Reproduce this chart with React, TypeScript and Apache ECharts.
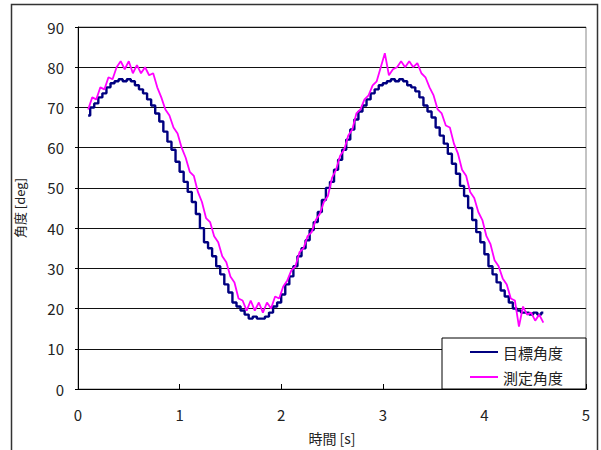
import React, { useEffect, useRef } from "react";
import * as echarts from "echarts";

const times = [
  0.10, 0.14, 0.18, 0.22, 0.26, 0.30, 0.34, 0.38, 0.42, 0.46, 0.50, 0.54, 0.58, 0.62, 0.66, 0.70,
  0.74, 0.78, 0.82, 0.86, 0.90, 0.94, 0.98, 1.02, 1.06, 1.10, 1.14, 1.18, 1.22, 1.26, 1.30, 1.34,
  1.38, 1.42, 1.46, 1.50, 1.54, 1.58, 1.62, 1.66, 1.70, 1.74, 1.78, 1.82, 1.86, 1.90, 1.94, 1.98,
  2.02, 2.06, 2.10, 2.14, 2.18, 2.22, 2.26, 2.30, 2.34, 2.38, 2.42, 2.46, 2.50, 2.54, 2.58, 2.62,
  2.66, 2.70, 2.74, 2.78, 2.82, 2.86, 2.90, 2.94, 2.98, 3.02, 3.06, 3.10, 3.14, 3.18, 3.22, 3.26,
  3.30, 3.34, 3.38, 3.42, 3.46, 3.50, 3.54, 3.58, 3.62, 3.66, 3.70, 3.74, 3.78, 3.82, 3.86, 3.90,
  3.94, 3.98, 4.02, 4.06, 4.10, 4.14, 4.18, 4.22, 4.26, 4.30, 4.34, 4.38, 4.42, 4.46, 4.50, 4.54,
  4.58,
];

const target = [
  68, 70, 71, 72.5, 73.5, 75, 76, 76.5, 77, 76.5, 77, 76.5, 75.5, 74.5, 73.5, 72,
  70.5, 68.5, 66.5, 64, 61.5, 59.5, 56.5, 54, 51.5, 49, 46.5, 43.5, 40, 36.5, 35, 33,
  30.5, 28.5, 26, 24, 21.5, 20.5, 19.5, 18.5, 17.5, 18, 17.5, 17.5, 18, 19, 20.5, 21.5,
  23.5, 26, 28, 30.5, 33, 35, 37, 39.5, 41.5, 44, 47, 50, 51.5, 54.5, 57, 59.5,
  62, 64.5, 67, 69, 70.5, 72, 73.5, 74.5, 75.5, 76, 76.5, 77, 76.5, 77, 76.5, 75.5,
  75, 74, 72.5, 70.5, 69, 67.5, 65, 63, 61, 58.5, 56, 53.5, 50.5, 48, 45, 42,
  39, 36.5, 33.5, 30.5, 28.5, 26.5, 24.5, 23, 21.5, 20, 19.5, 19, 19, 18.5, 19, 18.5,
  19,
];

const measured = [
  69.5, 72.5, 72, 75, 74.5, 77.5, 77, 80, 81.5, 79.5, 81.5, 78.5, 80.5, 78.5, 80, 78,
  78.5, 75, 72.5, 69.5, 68, 65, 63.5, 60, 57.5, 54, 53, 49, 46.5, 42.5, 41.5, 38,
  36.5, 33, 31.5, 28, 26.5, 22.5, 22, 19.5, 22, 19.5, 21.5, 19, 21.5, 20, 23, 22.5,
  25.5, 27, 29.5, 30.5, 34, 35, 38, 39, 42, 43.5, 46.5, 48, 52.5, 54.5, 58, 59.5,
  63, 64.5, 68.5, 69.5, 72, 73, 75.5, 76.5, 80, 83.5, 78, 79.5, 80, 81.5, 80, 81.5,
  80, 81, 78.5, 77.5, 75, 73, 69.5, 68.5, 65.5, 65, 61, 58.5, 54.5, 53, 49, 47.5,
  44, 42, 38, 36, 32, 30.5, 27.5, 26, 22.5, 22, 15.5, 20.5, 18.5, 19, 17, 18.5,
  16.5,
];

const seriesNames = ["目標角度", "測定角度"];
const xAxisName = "時間 [s]";
const yAxisName = "角度 [deg]";

const FONT = "'Noto Sans CJK JP', 'Noto Sans', sans-serif";

export default function App() {
  const ref = useRef<HTMLDivElement>(null);
  useEffect(() => {
    const chart = echarts.init(ref.current!, null, { renderer: "svg" });
    chart.setOption({
      animation: false,
      backgroundColor: "#fff",
      textStyle: { fontFamily: FONT },
      grid: {
        left: 78,
        right: 15,
        top: 27,
        bottom: 58,
        show: true,
        borderColor: "#888",
        borderWidth: 1,
        backgroundColor: "transparent",
      },
      graphic: [
        {
          type: "rect",
          shape: { x: 11.5, y: 4.5, width: 586, height: 470 },
          style: { fill: "none", stroke: "#333", lineWidth: 1.5 },
          silent: true,
        },
      ],
      legend: {
        orient: "vertical",
        left: 442,
        top: 338,
        data: seriesNames,
        icon: "rect",
        itemWidth: 28,
        itemHeight: 2,
        itemGap: 7,
        padding: [5, 23, 3, 28],
        backgroundColor: "#fff",
        borderColor: "#000",
        borderWidth: 1,
        textStyle: { fontSize: 15, color: "#222", fontFamily: FONT, lineHeight: 18 },
      },
      xAxis: {
        type: "value",
        min: 0,
        max: 5,
        interval: 1,
        name: xAxisName,
        nameLocation: "middle",
        nameGap: 42,
        nameTextStyle: { fontSize: 14, color: "#222", fontFamily: FONT },
        axisLine: { show: true, onZero: false, lineStyle: { color: "#000", width: 1 } },
        axisTick: { show: true, inside: true, length: 5, lineStyle: { color: "#000" } },
        axisLabel: { fontSize: 15, color: "#222", margin: 18, fontFamily: FONT },
        splitLine: { show: false },
      },
      yAxis: {
        type: "value",
        min: 0,
        max: 90,
        interval: 10,
        name: yAxisName,
        nameLocation: "middle",
        nameGap: 52,
        nameRotate: 90,
        nameTextStyle: { fontSize: 13, color: "#222", fontFamily: FONT },
        axisLine: { show: true, lineStyle: { color: "#000", width: 1 } },
        axisTick: { show: true, inside: false, length: 3, lineStyle: { color: "#000" } },
        axisLabel: { fontSize: 15, color: "#222", margin: 14, fontFamily: FONT },
        splitLine: { show: true, lineStyle: { color: "#111", width: 1 } },
      },
      series: [
        {
          name: seriesNames[0],
          type: "line",
          data: times.map((t, i) => [t, target[i]]),
          symbol: "none",
          step: "middle",
          lineStyle: { color: "#000080", width: 2.4 },
          itemStyle: { color: "#000080" },
          z: 2,
        },
        {
          name: seriesNames[1],
          type: "line",
          data: times.map((t, i) => [t, measured[i]]),
          symbol: "none",
          lineStyle: { color: "#FF00FF", width: 1.8 },
          itemStyle: { color: "#FF00FF" },
          z: 3,
        },
      ],
    });
    return () => chart.dispose();
  }, []);
  return (
    <div
      ref={ref}
      style={{ position: "fixed", left: 0, top: 0, width: 601, height: 450, background: "#fff" }}
    />
  );
}
